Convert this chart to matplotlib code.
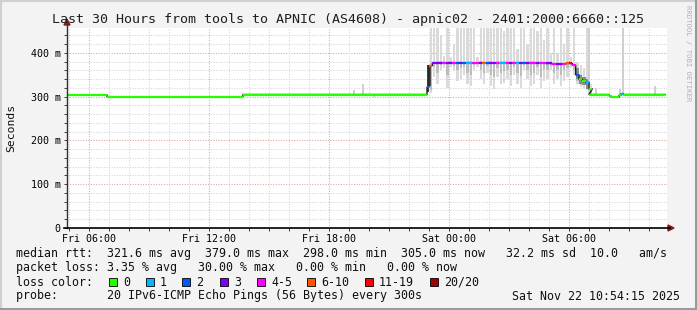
import numpy as np
import matplotlib
matplotlib.use("Agg")
import matplotlib.pyplot as plt
from matplotlib.lines import Line2D
from matplotlib.patches import Rectangle, Polygon

W, H = 697, 310
MONO = "DejaVu Sans Mono"

# ---- data (hours since Fri 00:00, values in ms) ----
base_start = [4.9, 6.9, 13.7, 22.9, 31.0, 32.0, 32.1, 32.5, 32.6, 32.7]
base_end = [6.9, 13.7, 22.9, 23.0, 32.0, 32.1, 32.5, 32.6, 32.7, 34.8]
base_median = [304, 300, 305, 322, 305, 302, 299, 303, 307, 305]
base_cat = [0, 0, 0, 2, 0, 0, 0, 0, 1, 0]

# elevated period, 10 minute bins starting at Sat 23:00 (t=23.0)
plateau_start = 23.0
plateau_median = [371, 377, 378, 378, 378, 377, 378, 378, 377, 378,
                  377, 378, 378, 377, 377, 378, 378, 377, 378, 377,
                  378, 378, 378, 378, 377, 378, 378, 377, 378, 377,
                  378, 378, 377, 378, 377, 376, 376, 375, 374, 374,
                  375, 376, 376, 372, 350, 340, 337, 333, 318]
plateau_cat = [5, 3, 3, 3, 4, 3, 3, 4, 2, 3,
               2, 1, 1, 4, 4, 3, 5, 2, 3, 3,
               4, 1, 1, 4, 3, 4, 1, 3, 2, 3,
               4, 4, 3, 4, 4, 3, 3, 4, 3, 3,
               4, 5, 6, 4, 2, 0, 0, 1, 0]
plateau_hi = [500, 500, 500, 440, 392, 500, 390, 420, 500, 500,
              500, 470, 500, 500, 390, 500, 500, 500, 500, 500,
              500, 500, 450, 500, 500, 500, 410, 500, 500, 420,
              500, 500, 450, 500, 430, 500, 400, 500, 400, 500,
              420, 500, 390, 500, 380, 372, 365, 500, 330]
plateau_lo = [308, 345, 330, 360, 365, 320, 368, 358, 335, 340,
              350, 330, 325, 360, 368, 340, 330, 355, 325, 318,
              345, 330, 332, 340, 325, 350, 330, 320, 360, 340,
              325, 330, 350, 320, 335, 340, 360, 330, 340, 325,
              335, 345, 365, 350, 328, 322, 318, 316, 305]
plateau_mid = [315, 368, 355, 372, 374, 350, 375, 370, 360, 365,
               368, 355, 350, 372, 374, 362, 355, 370, 350, 345,
               365, 355, 358, 362, 350, 368, 355, 348, 372, 362,
               350, 355, 368, 345, 360, 362, 370, 355, 360, 350,
               360, 365, 372, 360, 335, 330, 326, 322, 308]

# dark smoke at the steep transitions
dense_start = [22.9, 23.0, 30.33, 30.5, 30.67, 30.83]
dense_end = [23.0, 23.1, 30.5, 30.67, 30.83, 31.0]
dense_lo = [310, 325, 340, 330, 326, 318]
dense_hi = [372, 372, 365, 350, 345, 340]
dense_col = ["#404040", "#505050", "#8a8a8a", "#8a8a8a", "#8a8a8a", "#8a8a8a"]

# isolated smoke spikes
iso_t = [19.2, 19.65, 20.2, 30.95, 31.3, 32.5, 32.65, 34.25]
iso_lo = [305, 305, 300, 305, 305, 305, 305, 305]
iso_hi = [315, 329, 305, 500, 320, 318, 500, 324]

loss_colors = ["#26ff00", "#00b8ff", "#0059ff", "#7e00ff",
               "#ff00ff", "#ff5500", "#ff0000", "#a10000"]
loss_labels = ["0", "1", "2", "3", "4-5", "6-10", "11-19", "20/20"]

xtick_pos = [6, 12, 18, 24, 30]
xtick_labels = ["Fri 06:00", "Fri 12:00", "Fri 18:00", "Sat 00:00", "Sat 06:00"]
ytick_pos = [0, 100, 200, 300, 400]
ytick_labels = ["0", "100 m", "200 m", "300 m", "400 m"]


def fx(x):
    return x / W


def fy(y):
    return 1 - y / H


fig = plt.figure(figsize=(W / 100, H / 100), dpi=100)
fig.patch.set_facecolor("#f3f3f3")

ax = fig.add_axes([fx(67), fy(228), 600 / W, 200 / H])
ax.set_facecolor("white")
ax.set_xlim(4.9, 34.9)
ax.set_ylim(0, 457)
for s in ax.spines.values():
    s.set_visible(False)

# grid
for v in range(20, 457, 20):
    c = "#e8a0a0" if v % 100 == 0 else "#d4d4d4"
    ax.axhline(v, color=c, lw=0.75, dashes=(1, 1.5), zorder=0)
for h in range(5, 35):
    c = "#e8a0a0" if h % 6 == 0 else "#d4d4d4"
    ax.axvline(h, color=c, lw=0.75, dashes=(1, 1.5), zorder=0)

# smoke
bw = 1 / 6
pt = plateau_start + np.arange(len(plateau_median)) * bw
ax.bar(pt + bw / 2, np.array(plateau_hi) - np.array(plateau_lo), bottom=plateau_lo,
       width=bw * 0.7, align="center", color="#dadada", lw=0, zorder=1)
ax.bar(pt + bw / 2, np.array(plateau_median) - np.array(plateau_mid), bottom=plateau_mid,
       width=bw * 0.7, align="center", color="#bdbdbd", lw=0, zorder=1)
ax.bar(dense_start, np.array(dense_hi) - np.array(dense_lo), bottom=dense_lo,
       width=np.array(dense_end) - np.array(dense_start), align="edge",
       color=dense_col, lw=0, zorder=1)
ax.bar(iso_t, np.array(iso_hi) - np.array(iso_lo), bottom=iso_lo,
       width=1 / 12, align="edge", color="#cfcfcf", lw=0, zorder=1)

# median line
seg_s = list(base_start) + list(pt)
seg_e = list(base_end) + list(pt + bw)
seg_v = list(base_median) + list(plateau_median)
seg_c = list(base_cat) + list(plateau_cat)
order = np.argsort(seg_s)
xs, ys = [], []
for i in order:
    xs += [seg_s[i], seg_e[i]]
    ys += [seg_v[i], seg_v[i]]
ax.plot(xs, ys, color="#202020", lw=1.0, zorder=2)
for i in order:
    ax.plot([seg_s[i], seg_e[i]], [seg_v[i], seg_v[i]],
            color=loss_colors[seg_c[i]], lw=1.6, solid_capstyle="butt", zorder=3)

# ticks
ax.set_xticks(xtick_pos)
ax.set_xticklabels(xtick_labels, family=MONO, fontsize=7.2)
ax.set_xticks(range(5, 35), minor=True)
ax.set_yticks(ytick_pos)
ax.set_yticklabels(ytick_labels, family=MONO, fontsize=7.2)
ax.set_yticks(range(20, 457, 20), minor=True)
ax.tick_params(which="both", length=2, width=0.7, color="#404040", pad=2.5)
fig.text(fx(11), fy(128), "Seconds", family=MONO, fontsize=8.2, rotation=90,
         ha="center", va="center", color="#101010")

# axes with arrows
fig.add_artist(Line2D([fx(67), fx(67)], [fy(228), fy(24)], color="#303030", lw=1.0))
fig.add_artist(Line2D([fx(64), fx(670)], [fy(228), fy(228)], color="#000000", lw=1.2))
fig.add_artist(Polygon([(fx(64), fy(25)), (fx(70), fy(25)), (fx(67), fy(19))],
                       closed=True, color="#8b1a1a"))
fig.add_artist(Polygon([(fx(668), fy(225)), (fx(668), fy(231)), (fx(674), fy(228))],
                       closed=True, color="#8b1a1a"))

# title & side text
fig.text(fx(348), fy(19), "Last 30 Hours from tools to APNIC (AS4608) - apnic02 - 2401:2000:6660::125",
         family=MONO, fontsize=9.6, ha="center", va="center", color="#202020")
fig.text(fx(688), fy(5), "RRDTOOL / TOBI OETIKER", family=MONO, fontsize=5.2,
         rotation=270, ha="center", va="top", color="#b0b0b0")

# legend rows
rows = [
    (254, "median rtt:  321.6 ms avg  379.0 ms max  298.0 ms min  305.0 ms now   32.2 ms sd  10.0   am/s"),
    (268, "packet loss: 3.35 % avg   30.00 % max   0.00 % min   0.00 % now"),
    (282, "loss color:"),
    (296, "probe:       20 IPv6-ICMP Echo Pings (56 Bytes) every 300s"),
]
for y, txt in rows:
    fig.text(fx(16), fy(y), txt, family=MONO, fontsize=8.4, ha="left", va="center", color="#101010")
fig.text(fx(680), fy(296), "Sat Nov 22 10:54:15 2025", family=MONO, fontsize=8.4,
         ha="right", va="center", color="#101010")

box_x = [109, 146, 182, 220, 257, 307, 365, 430]
for bx, col, lab in zip(box_x, loss_colors, loss_labels):
    fig.add_artist(Rectangle((fx(bx), fy(286)), 8 / W, 8 / H, facecolor=col,
                             edgecolor="black", lw=0.6, transform=fig.transFigure))
    fig.text(fx(bx + 14), fy(282), lab, family=MONO, fontsize=8.4, ha="left",
             va="center", color="#101010")

# frame
fig.add_artist(Line2D([0, 1], [fy(0.7), fy(0.7)], color="#cfcfcf", lw=1.5))
fig.add_artist(Line2D([fx(0.7), fx(0.7)], [0, 1], color="#cfcfcf", lw=1.5))
fig.add_artist(Line2D([0, 1], [fy(309), fy(309)], color="#9a9a9a", lw=1.5))
fig.add_artist(Line2D([fx(696), fx(696)], [0, 1], color="#9a9a9a", lw=1.5))

fig.savefig("out.png", dpi=100, facecolor=fig.get_facecolor())
